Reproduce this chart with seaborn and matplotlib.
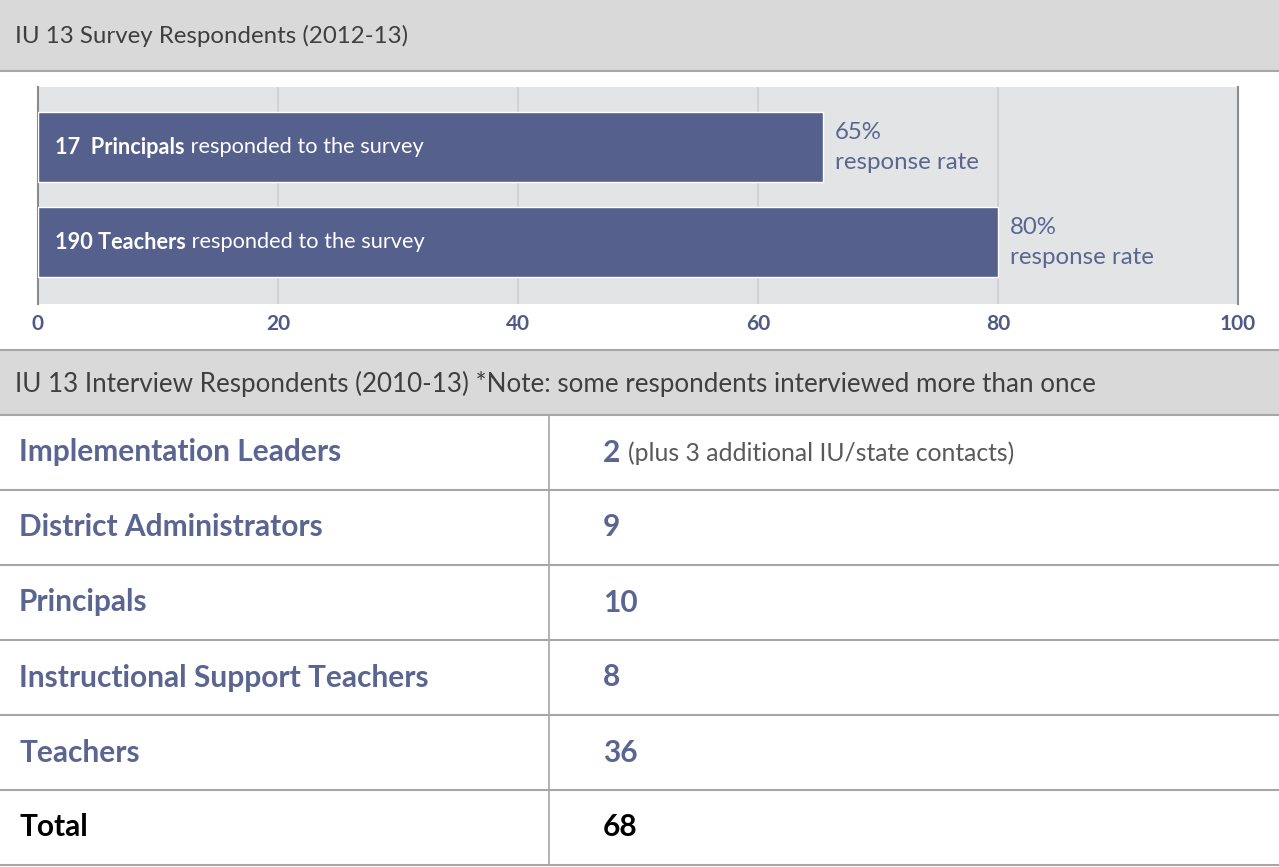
import pandas as pd
import numpy as np
import seaborn as sns
import matplotlib.pyplot as plt
from matplotlib.patches import Rectangle

# survey part
groups = ['Principals', 'Teachers']
respondents = [17, 190]
response_rate = [65.4, 80.0]
x_ticks = [0, 20, 40, 60, 80, 100]

# interview part
roles = ['Implementation Leaders', 'District Administrators', 'Principals',
         'Instructional Support Teachers', 'Teachers', 'Total']
interviewed = [2, 9, 10, 8, 36, 68]
notes = ['(plus 3 additional IU/state contacts)', '', '', '', '', '']

survey_title = 'IU 13 Survey Respondents (2012-13)'
interview_title = 'IU 13 Interview Respondents (2010-13) *Note: some respondents interviewed more than once'

navy = '#55608d'
label_blue = '#5a6592'
header_grey = '#d9d9d9'
rule_grey = '#a6a6a6'

sns.set_theme(style='white')
plt.rcParams['font.family'] = ['Lato', 'DejaVu Sans']

W, H = 1279, 867
fig = plt.figure(figsize=(W / 100, H / 100), dpi=100)
fig.patch.set_facecolor('white')

# page-like background axes in pixel units
bg = fig.add_axes([0, 0, 1, 1])
bg.set_xlim(0, W)
bg.set_ylim(H, 0)
bg.axis('off')

bg.add_patch(Rectangle((0, 0), W, 70, color=header_grey, lw=0))
bg.plot([0, W], [70.5, 70.5], color=rule_grey, lw=1.5)
bg.text(15, 36, survey_title, fontsize=17.3, color='#3f3f3f', va='center')

bg.add_patch(Rectangle((0, 350), W, 65, color=header_grey, lw=0))
bg.plot([0, W], [349.5, 349.5], color=rule_grey, lw=1.5)
bg.plot([0, W], [415, 415], color=rule_grey, lw=1.5)
bg.text(15, 384, interview_title, fontsize=18.7, color='#3f3f3f', va='center')

# interview table
row_h = 75
top = 415
bg.plot([549, 549], [top, top + row_h * len(roles)], color=rule_grey, lw=1.2)
fig.canvas.draw()
renderer = fig.canvas.get_renderer()
for i, (role, n, note) in enumerate(zip(roles, interviewed, notes)):
    yc = top + row_h * i + row_h / 2
    col = 'black' if role == 'Total' else label_blue
    bg.text(19, yc, role, fontsize=21.5, fontweight='bold', color=col, va='center')
    t = bg.text(603, yc, str(n), fontsize=21.5, fontweight='bold', color=col, va='center')
    if note:
        w = t.get_window_extent(renderer).width
        bg.text(603 + w + 8, yc + 1, note, fontsize=17.8, color='#595959', va='center')
    bg.plot([0, W], [top + row_h * (i + 1)] * 2, color=rule_grey, lw=1.5)

# survey bar chart
df = pd.DataFrame({'group': groups, 'rate': response_rate, 'n': respondents})
ax = fig.add_axes([38 / W, (H - 304) / H, 1200 / W, 217 / H])
sns.barplot(data=df, x='rate', y='group', orient='h', color=navy, saturation=1,
            width=0.74, ax=ax, zorder=3)
ax.set_facecolor('#e3e4e6')
ax.set_xlim(0, 100)
ax.set_ylim(1.65, -0.635)
ax.set_xticks(x_ticks)
ax.set_xticklabels([str(v) for v in x_ticks], fontsize=15, fontweight='bold', color='#4e5a85')
ax.tick_params(axis='x', length=0, pad=7)
ax.set_yticks([])
ax.set_xlabel('')
ax.set_ylabel('')
ax.grid(axis='x', color='#cdced1', lw=1.2, zorder=0)
ax.set_axisbelow(True)
for side in ['top', 'bottom']:
    ax.spines[side].set_visible(False)
for side in ['left', 'right']:
    ax.spines[side].set_color('#8c8c8c')
    ax.spines[side].set_linewidth(1.5)

fig.canvas.draw()
for i, row in df.iterrows():
    b = ax.annotate(f"{row['n']}  {row['group']}" if row['n'] < 100 else f"{row['n']} {row['group']}",
                    xy=(0, i), xytext=(17, 0), textcoords='offset pixels',
                    fontsize=15.7, fontweight='bold', color='white', va='center', zorder=5)
    w = b.get_window_extent(renderer).width
    ax.annotate(' responded to the survey', xy=(0, i), xytext=(17 + w, 0),
                textcoords='offset pixels', fontsize=15.7, color='white', va='center', zorder=5)
    ax.annotate(f"{row['rate']:.0f}%\nresponse rate", xy=(row['rate'], i), xytext=(12, 0),
                textcoords='offset pixels', fontsize=17.3, color='#5a6690', va='center',
                linespacing=1.55, zorder=5)

fig.savefig('out.png', dpi=100)
